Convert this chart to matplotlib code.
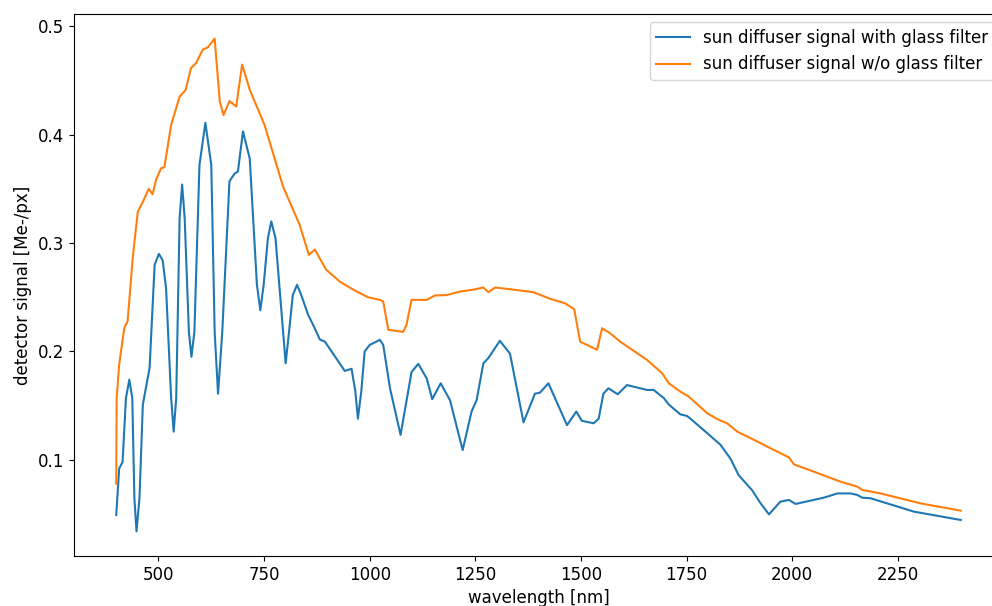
import numpy as np
import matplotlib
matplotlib.use("Agg")
import matplotlib.pyplot as plt

# values
wl_glass = [400, 407, 415, 423, 431, 438, 443, 448, 455, 463, 479, 487, 491, 501, 510, 518, 530,
            536, 542, 550, 556, 562, 572, 578, 585, 597, 611, 625, 633, 641, 651, 668, 680, 688,
            700, 716, 733, 741, 749, 759, 767, 777, 795, 801, 809, 818, 828, 838, 854, 866, 882,
            894, 941, 957, 966, 972, 980, 988, 1000, 1024, 1032, 1048, 1073, 1099, 1115, 1135,
            1148, 1168, 1190, 1220, 1241, 1253, 1269, 1281, 1308, 1332, 1364, 1391, 1403, 1423,
            1467, 1489, 1502, 1530, 1542, 1553, 1565, 1587, 1609, 1656, 1672, 1696, 1708, 1735,
            1751, 1759, 1799, 1830, 1854, 1873, 1905, 1925, 1945, 1972, 1992, 2008, 2051, 2075,
            2107, 2138, 2154, 2166, 2186, 2288, 2399]
sig_glass = [0.049, 0.092, 0.098, 0.157, 0.174, 0.157, 0.0645, 0.034, 0.0645, 0.151, 0.185,
             0.249, 0.280, 0.290, 0.284, 0.258, 0.157, 0.126, 0.157, 0.323, 0.354, 0.323, 0.218,
             0.195, 0.218, 0.372, 0.411, 0.372, 0.218, 0.161, 0.218, 0.357, 0.364, 0.366, 0.403,
             0.378, 0.2615, 0.238, 0.2615, 0.3045, 0.320, 0.3045, 0.218, 0.189, 0.218, 0.252,
             0.2615, 0.252, 0.234, 0.2245, 0.211, 0.209, 0.182, 0.184, 0.163, 0.138, 0.163, 0.200,
             0.206, 0.2107, 0.206, 0.166, 0.123, 0.181, 0.1886, 0.175, 0.156, 0.1706, 0.155,
             0.109, 0.1445, 0.155, 0.189, 0.194, 0.2098, 0.198, 0.1346, 0.161, 0.162, 0.1706,
             0.132, 0.1445, 0.136, 0.1337, 0.138, 0.161, 0.166, 0.1605, 0.169, 0.1645, 0.1645,
             0.157, 0.151, 0.142, 0.1405, 0.138, 0.1245, 0.114, 0.101, 0.086, 0.072, 0.060,
             0.0497, 0.0614, 0.063, 0.0593, 0.063, 0.0651, 0.069, 0.069, 0.0676, 0.0651, 0.0645,
             0.0522, 0.0445]

wl_noglass = [400, 401, 407, 419, 427, 439, 451, 463, 477, 486, 494, 506, 514, 530, 550, 564,
              577, 589, 605, 617, 633, 645, 654, 668, 684, 698, 716, 751, 795, 834, 856, 870,
              897, 929, 961, 996, 1024, 1032, 1044, 1079, 1087, 1099, 1135, 1154, 1182, 1214,
              1245, 1269, 1281, 1297, 1340, 1387, 1427, 1462, 1484, 1498, 1518, 1538, 1550, 1569,
              1593, 1656, 1692, 1708, 1735, 1755, 1799, 1822, 1846, 1870, 1917, 1949, 1992, 2004,
              2051, 2114, 2154, 2166, 2209, 2304, 2399]
sig_noglass = [0.078, 0.157, 0.188, 0.2215, 0.228, 0.286, 0.329, 0.338, 0.350, 0.345, 0.358,
               0.369, 0.370, 0.409, 0.435, 0.441, 0.4615, 0.466, 0.4785, 0.4806, 0.4886, 0.431,
               0.418, 0.431, 0.426, 0.4646, 0.4415, 0.409, 0.352, 0.317, 0.289, 0.294, 0.2754,
               0.2645, 0.257, 0.250, 0.2476, 0.246, 0.220, 0.218, 0.2245, 0.2476, 0.2476, 0.2516,
               0.252, 0.2553, 0.257, 0.259, 0.2547, 0.259, 0.257, 0.2547, 0.2486, 0.2445, 0.239,
               0.209, 0.2054, 0.2015, 0.2214, 0.2168, 0.209, 0.1923, 0.180, 0.1706, 0.163, 0.1584,
               0.143, 0.1377, 0.1337, 0.126, 0.117, 0.1106, 0.1023, 0.0958, 0.0891, 0.0799,
               0.0753, 0.0722, 0.069, 0.0598, 0.0531]

plt.rcParams['font.size'] = 12

fig = plt.figure(figsize=(9.92, 6.06), dpi=100)
# the original figure was cut off on the right, so the axes run past the edge
ax = fig.add_axes([74 / 992, 50 / 606, 929 / 992, 542 / 606])

ax.plot(wl_glass, sig_glass, label='sun diffuser signal with glass filter')
ax.plot(wl_noglass, sig_noglass, label='sun diffuser signal w/o glass filter')

ax.set_xlabel('wavelength [nm]')
ax.set_ylabel('detector signal [Me-/px]')
ax.legend(loc='upper right')

fig.savefig('out.png', dpi=100)
